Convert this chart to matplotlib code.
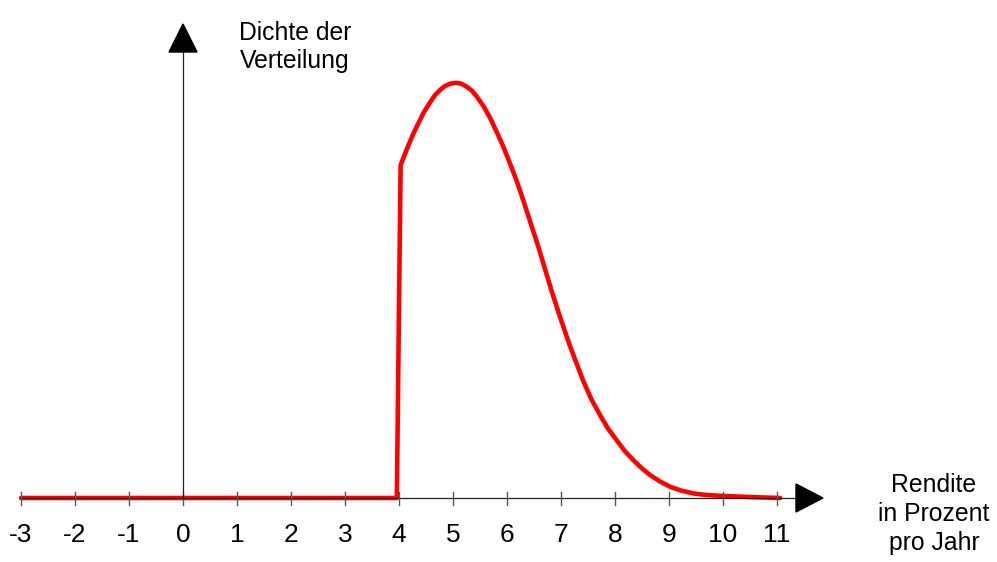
import matplotlib
matplotlib.use("Agg")
import matplotlib.pyplot as plt
from matplotlib.patches import Polygon

# Data (density in relative units, peak ~ 1)
rendite = [-3, 3.96, 4.03, 4.15, 4.27, 4.45, 4.57, 4.67, 4.77, 4.85, 4.95, 5.06, 5.15,
           5.25, 5.35, 5.44, 5.56, 5.69, 5.81, 5.93, 6.05, 6.18, 6.28, 6.38, 6.58, 6.83,
           6.98, 7.17, 7.41, 7.56, 7.72, 7.87, 8.03, 8.18, 8.34, 8.50, 8.65, 8.83,
           9.02, 9.22, 9.45, 9.70, 10.0, 10.56, 11.06]
dichte = [0, 0, 0.80, 0.840, 0.877, 0.925, 0.950, 0.969, 0.982, 0.990, 0.996, 0.998, 0.996,
          0.989, 0.979, 0.965, 0.943, 0.913, 0.880, 0.845, 0.806, 0.762, 0.724, 0.684, 0.604,
          0.496, 0.436, 0.364, 0.282, 0.238, 0.200, 0.167, 0.139, 0.113, 0.091, 0.071, 0.055,
          0.040, 0.027, 0.018, 0.011, 0.007, 0.005, 0.002, 0.0]
ticks = list(range(-3, 12))
tick_labels = [str(t) for t in ticks]

plt.rcParams['font.family'] = ['Liberation Sans', 'DejaVu Sans']

fig = plt.figure(figsize=(9.97, 5.62), dpi=100)
ax = fig.add_axes([0, 0, 1, 1])
PX = 54.0     # pixels per x unit
PY = 416.0    # pixels per y unit
ax.set_xlim(-183 / PX, (997 - 183) / PX)
ax.set_ylim(-64 / PY, 498 / PY)
ax.axis('off')

# curve
ax.plot(rendite, dichte, color='#ff0000', lw=3.3, solid_joinstyle='round',
        solid_capstyle='round', zorder=2)

# x axis
x_tip = 823
x_end = (x_tip - 183) / PX
ax.plot([-3, x_end - 20 / PX], [0, 0], color='#222222', lw=0.9, zorder=3)
ax.add_patch(Polygon([[(796 - 183) / PX, 14 / PY], [(796 - 183) / PX, -14 / PY],
                      [x_end, 0]], closed=True, color='black', zorder=4))
for t, lab in zip(ticks, tick_labels):
    ax.plot([t, t], [6.5 / PY, -6.5 / PY], color='#555555', lw=1.0, zorder=3)
    ax.text(t, -37 / PY, lab, ha='center', va='center', fontsize=19)

# y axis
y_tip = (498 - 24) / PY
ax.plot([0, 0], [0, (498 - 50) / PY], color='#222222', lw=0.9, zorder=3)
ax.add_patch(Polygon([[-14 / PX, (498 - 52) / PY], [14 / PX, (498 - 52) / PY],
                      [0, y_tip]], closed=True, color='black', zorder=4))

# axis labels
ax.text((295 - 183) / PX, (498 - 47) / PY, "Dichte der\nVerteilung", ha='center',
        va='center', fontsize=17.8, linespacing=1.24)
ax.text((934 - 183) / PX, (498 - 514) / PY, "Rendite\nin Prozent\npro Jahr",
        ha='center', va='center', fontsize=17.8, linespacing=1.24)

fig.savefig("out.png", dpi=100)
